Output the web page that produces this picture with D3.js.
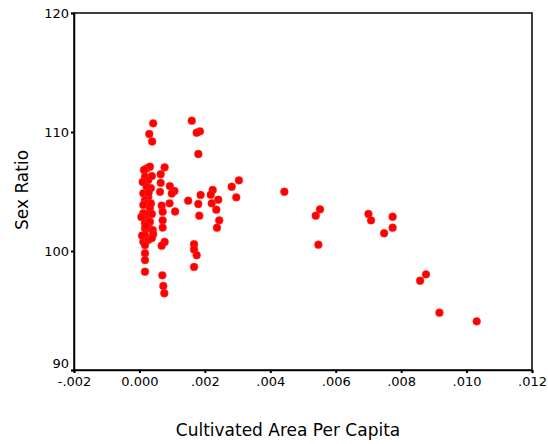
<!DOCTYPE html>
<html>
<head>
<meta charset="utf-8">
<script src="https://cdn.jsdelivr.net/npm/d3@7"></script>
<style>
	body { margin: 0; background: #fff; }
	svg { display: block; }
	text { font-family: "DejaVu Sans", sans-serif; fill: #000; }
</style>
</head>
<body>
<svg id="chart" width="548" height="444"></svg>
<script>

// cultivated area per capita (x) and sex ratio (y)
var area = [
	0.00042, 0.00030, 0.00039,
	0.00160, 0.00185, 0.00175, 0.00180,
	0.00077, 0.00065, 0.00065, 0.00063, 0.00093, 0.00107, 0.00099, 0.00092, 0.00068, 0.00071, 0.00109, 0.00071, 0.00071, 0.00077, 0.00068, 0.00070, 0.00073, 0.00076,
	0.00149, 0.00187, 0.00180, 0.00183, 0.00224, 0.00218, 0.00241, 0.00221, 0.00235, 0.00244, 0.00237, 0.00167, 0.00167, 0.00175, 0.00167,
	0.00282, 0.00304, 0.00296,
	0.00443, 0.00552, 0.00539, 0.00547, 0.00700, 0.00708, 0.00774, 0.00774, 0.00748, 0.00876, 0.00858, 0.00917, 0.01031,
	0.00022, 0.00032, 0.00014, 0.00017, 0.00027, 0.00038, 0.00022, 0.00035, 0.00012, 0.00027, 0.00017, 0.00022, 0.00012, 0.00032, 0.00012, 0.00027,
	0.00038, 0.00017, 0.00017, 0.00032, 0.00017, 0.00030, 0.00041, 0.00017, 0.00042, 0.00012, 0.00027, 0.00038, 0.00017, 0.00017, 0.00017, 0.00017, 0.00006,
	0.00010, 0.00028, 0.00020, 0.00035, 0.00008
];

var sexRatio = [
	110.73, 109.83, 109.20,
	110.95, 110.06, 109.94, 108.15,
	107.03, 106.45, 105.73, 104.97, 105.46, 105.04, 104.83, 104.01, 103.82, 103.30, 103.32, 102.58, 101.97, 100.76, 100.45, 97.96, 97.06, 96.45,
	104.23, 104.71, 103.95, 102.97, 105.13, 104.73, 104.31, 104.01, 103.47, 102.58, 101.96, 100.57, 100.13, 99.65, 98.66,
	105.40, 105.94, 104.51,
	104.98, 103.50, 102.97, 100.53, 103.11, 102.58, 102.88, 101.96, 101.49, 98.04, 97.50, 94.82, 94.09,
	106.94, 107.08, 106.81, 106.24, 105.97, 106.30, 105.40, 105.29, 104.85, 104.56, 104.29, 104.01, 103.87, 103.61, 103.19, 103.03,
	103.11, 102.69, 102.33, 102.46, 101.91, 101.91, 101.76, 101.34, 101.40, 100.78, 100.92, 101.09, 100.50, 99.81, 99.24, 98.26, 102.86,
	105.80, 104.90, 102.10, 104.00, 101.30
];

var xTicks = [-0.002, 0, 0.002, 0.004, 0.006, 0.008, 0.010, 0.012];
var xTickLabels = ["-.002", "0.000", ".002", ".004", ".006", ".008", ".010", ".012"];
var yTicks = [90, 100, 110, 120];

var xTitle = "Cultivated Area Per Capita";
var yTitle = "Sex Ratio";

var svg = d3.select("#chart");

var margin = { top: 13, bottom: 74, left: 74, right: 16 };
var width = 548, height = 444;

var xScale = d3.scaleLinear()
	.domain([-0.002, 0.012])
	.range([margin.left, width - margin.right]);

var yScale = d3.scaleLinear()
	.domain([90, 120])
	.range([height - margin.bottom, margin.top]);

// frame round the plot area
svg.append("rect")
	.attr("x", xScale(-0.002))
	.attr("y", yScale(120))
	.attr("width", xScale(0.012) - xScale(-0.002))
	.attr("height", yScale(90) - yScale(120))
	.attr("fill", "none")
	.attr("stroke", "#000")
	.attr("stroke-width", 1.5);

var xAxis = svg.append("g")
	.attr("transform", "translate(0," + yScale(90) + ")")
	.call(d3.axisBottom(xScale).tickValues(xTicks).tickSize(3).tickPadding(4).tickFormat((d, i) => xTickLabels[i]));

var yAxis = svg.append("g")
	.attr("transform", "translate(" + xScale(-0.002) + ",0)")
	.call(d3.axisLeft(yScale).tickValues(yTicks).tickSize(3).tickPadding(2).tickFormat(d3.format("d")));

[xAxis, yAxis].forEach(a => {
	a.select(".domain").attr("stroke", "#000").attr("stroke-width", 1.5);
	a.selectAll(".tick line").attr("stroke", "#000").attr("stroke-width", 2);
	a.selectAll(".tick text").attr("font-size", 13).attr("font-family", "DejaVu Sans");
});

// the lowest y label sits a little above its tick, clear of the x labels
yAxis.selectAll(".tick text")
	.filter(d => d == 90)
	.attr("dy", "-0.2em");

svg.append("text")
	.attr("x", 288)
	.attr("y", 436)
	.attr("text-anchor", "middle")
	.attr("font-size", 17)
	.text(xTitle);

svg.append("text")
	.attr("transform", "translate(28,190) rotate(-90)")
	.attr("text-anchor", "middle")
	.attr("font-size", 17)
	.text(yTitle);

var points = d3.zip(area, sexRatio);

svg.append("g")
	.selectAll("circle")
	.data(points)
	.enter()
	.append("circle")
	.attr("cx", d => xScale(d[0]))
	.attr("cy", d => yScale(d[1]))
	.attr("r", 3.9)
	.attr("fill", "#ff0000")
	.attr("stroke", "#ff3030")
	.attr("stroke-width", 0.5);

</script>
</body>
</html>
